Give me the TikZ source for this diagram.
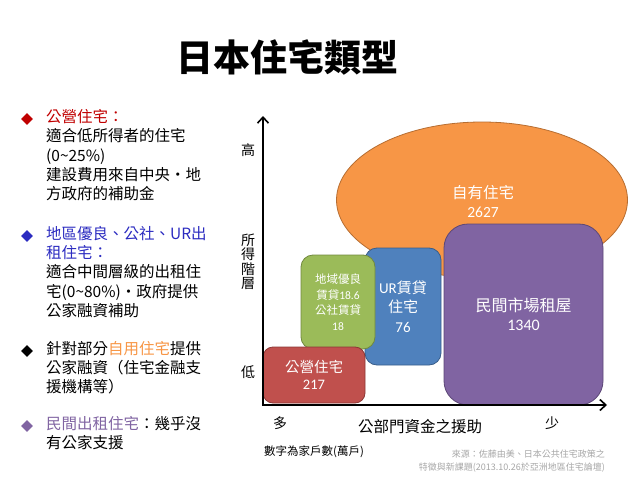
\documentclass[tikz,border=0pt]{standalone}
\usepackage{fontspec}
\setmainfont{Noto Sans CJK TC}
\newfontfamily\numf{Carlito}
\usetikzlibrary{shapes.geometric,arrows.meta}
\definecolor{cOrange}{HTML}{F79646}
\definecolor{cOrangeB}{HTML}{B66D31}
\definecolor{cPurple}{HTML}{8064A2}
\definecolor{cPurpleB}{HTML}{5C4776}
\definecolor{cBlue}{HTML}{4F81BD}
\definecolor{cBlueB}{HTML}{385D8A}
\definecolor{cGreen}{HTML}{9BBB59}
\definecolor{cGreenB}{HTML}{71893F}
\definecolor{cRed}{HTML}{C0504D}
\definecolor{cRedB}{HTML}{8C3836}
\definecolor{tRed}{HTML}{C00000}
\definecolor{tBlue}{HTML}{2B2BC0}
\definecolor{tGray}{HTML}{A6A6A6}
\begin{document}
\begin{tikzpicture}[x=1pt,y=-1pt,
  lt/.style={anchor=west,inner sep=0pt,font=\fontsize{15.5}{19}\selectfont,text height=12pt,text depth=3pt},
  bul/.style={diamond,inner sep=0pt,minimum width=12pt,minimum height=12pt},
  box/.style={draw,line width=0.8pt,inner sep=0pt,text=white,align=center},
  ax/.style={line width=2.2pt,-{Straight Barb[length=6pt,width=11pt,line width=1.6pt]}},
  axl/.style={inner sep=0pt,font=\fontsize{14}{14}\selectfont}]
\useasboundingbox (0,0) rectangle (638,479);
% title
\node[inner sep=0pt,font=\fontsize{37}{37}\selectfont\bfseries] (title) at (287,57) {日本住宅類型};
% left text
\node[bul,fill=tRed] (b1) at (27,119) {};
\node[lt,text=tRed] (l1) at (46,118) {公營住宅：};
\node[lt] (l2) at (46,137) {適合低所得者的住宅};
\node[lt] (l3) at (46,157) {(0\textasciitilde25\%)};
\node[lt] (l4) at (46,176) {建設費用來自中央・地};
\node[lt] (l5) at (46,195) {方政府的補助金};
\node[bul,fill=tBlue] (b2) at (27,236) {};
\node[lt,text=tBlue] (l6) at (46,235) {地區優良、公社、UR出};
\node[lt,text=tBlue] (l7) at (46,254) {租住宅：};
\node[lt] (l8) at (46,273) {適合中間層級的出租住};
\node[lt] (l9) at (46,293) {宅(0\textasciitilde80\%)・政府提供};
\node[lt] (l10) at (46,312) {公家融資補助};
\node[bul,fill=black] (b3) at (27,351) {};
\node[lt] (l11) at (46,350) {針對部分\textcolor{cOrange}{自用住宅}提供};
\node[lt] (l12) at (46,369) {公家融資（住宅金融支};
\node[lt] (l13) at (46,388) {援機構等）};
\node[bul,fill=cPurple] (b4) at (27,426) {};
\node[lt,text=cPurple] (l14) at (46,425) {民間出租住宅\textcolor{black}{：幾乎沒}};
\node[lt] (l15) at (46,444) {有公家支援};
% shapes
\node[ellipse,draw=cOrangeB,fill=cOrange,line width=0.8pt,minimum width=291pt,minimum height=156pt,inner sep=0pt] (own) at (482,200) {};
\node[inner sep=0pt,text=white,align=center,font=\fontsize{15.5}{19}\selectfont] (ownt) at (483,202) {自有住宅\\{\numf 2627}};
\node[box,draw=cPurpleB,fill=cPurple,rounded corners=24pt,minimum width=159pt,minimum height=181pt,font=\fontsize{16}{19}\selectfont] (priv) at (523.5,314.5) {民間市場租屋\\{\numf 1340}};
\node[box,draw=cBlueB,fill=cBlue,rounded corners=12pt,minimum width=76pt,minimum height=117pt,font=\fontsize{15}{19.5}\selectfont] (ur) at (403,306.5) {{\numf UR}賃貸\\住宅\\{\numf 76}};
\node[box,draw=cGreenB,fill=cGreen,rounded corners=12pt,minimum width=74pt,minimum height=94pt,font=\fontsize{11.5}{15.5}\selectfont] (loc) at (338,302) {地域優良\\賃貸{\numf 18.6}\\公社賃貸\\{\numf 18}};
\node[box,draw=cRedB,fill=cRed,rounded corners=10pt,minimum width=102pt,minimum height=56pt,font=\fontsize{14.5}{17}\selectfont] (pub) at (314,375) {公營住宅\\{\numf 217}};
% axes
\coordinate (o) at (263,405);
\coordinate (ytop) at (263,116);
\coordinate (xend) at (607,405);
\draw[ax] (o) -- (ytop);
\draw[ax] ([xshift=-1.1pt]o) -- (xend);
\node[axl] (hi) at (248,150) {高};
\node[axl,align=center,font=\fontsize{14}{14.5}\selectfont] (inc) at (248,262) {所\\得\\階\\層};
\node[axl] (lo) at (248,372) {低};
\node[axl] (many) at (280,423) {多};
\node[inner sep=0pt,font=\fontsize{15.5}{16}\selectfont] (xl) at (420,427) {公部門資金之援助};
\node[axl] (few) at (552,423) {少};
\node[inner sep=0pt,anchor=west,font=\fontsize{11.5}{12}\selectfont] (note) at (264,452) {數字為家戶數(萬戶)};
\node[inner sep=0pt,anchor=east,text=tGray,font=\fontsize{9}{13}\selectfont,align=right] (src) at (605,461.5) {來源：佐藤由美、日本公共住宅政策之\\特徵與新課題(2013.10.26於亞洲地區住宅論壇)};
\end{tikzpicture}
\end{document}
